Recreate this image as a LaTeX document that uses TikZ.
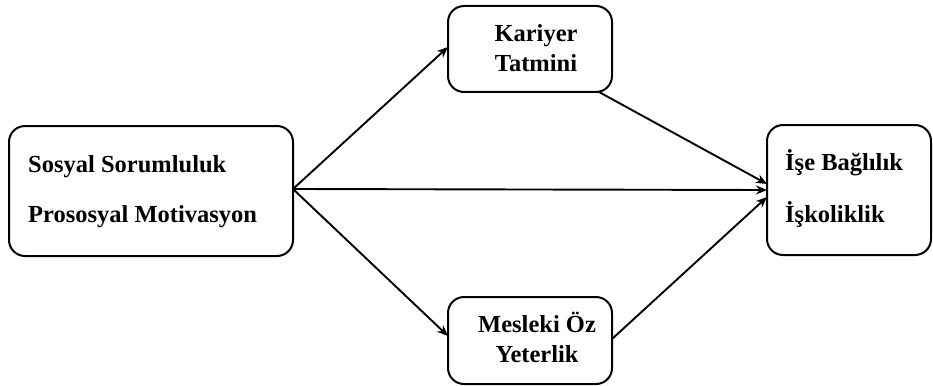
\documentclass[tikz,border=0pt]{standalone}
\usepackage{fontspec}
\setmainfont{Liberation Serif}
\usetikzlibrary{arrows.meta}
\begin{document}
\begin{tikzpicture}[x=1pt,y=-1pt,
  box/.style={draw,line width=2pt,rounded corners=16pt,fill=white},
  lbl/.style={font=\fontsize{24.5}{30}\selectfont\bfseries,anchor=base west,inner sep=0pt},
  clbl/.style={font=\fontsize{24.5}{30}\selectfont\bfseries,anchor=base,inner sep=0pt},
  link/.style={line width=1.9pt,-{Stealth[length=11pt,width=9pt]}}]
\useasboundingbox (0,0) rectangle (933,385);
% boxes
\draw[box] (9,126) rectangle (293,256);
\draw[box] (448,6) rectangle (612,92);
\draw[box] (448,297) rectangle (612,384);
\draw[box] (767,125) rectangle (931,255);
\coordinate (src) at (293,189);
\coordinate (kt) at (448,47);
\coordinate (mo) at (448,336);
\coordinate (ib) at (767,190);
\coordinate (ktout) at (599,92);
\coordinate (moout) at (612,339);
\coordinate (ibtop) at (767,184);
\coordinate (ibbot) at (767,197);
% labels
\node[lbl] (s1) at (28,172) {Sosyal Sorumluluk};
\node[lbl] (s2) at (28,222) {Prososyal Motivasyon};
\node[clbl] (k1) at (536,42) {Kariyer};
\node[clbl] (k2) at (536,72) {Tatmini};
\node[clbl] (m1) at (537,332) {Mesleki Öz};
\node[clbl] (m2) at (537,362) {Yeterlik};
\node[lbl] (i1) at (785,170) {İşe Bağlılık};
\node[lbl] (i2) at (785,222) {İşkoliklik};
% connectors
\draw[link] (src) -- (kt);
\draw[link] (src) -- (mo);
\draw[link] (src) -- (ib);
\draw[link] (ktout) -- (ibtop);
\draw[link] (moout) -- (ibbot);
\end{tikzpicture}
\end{document}
